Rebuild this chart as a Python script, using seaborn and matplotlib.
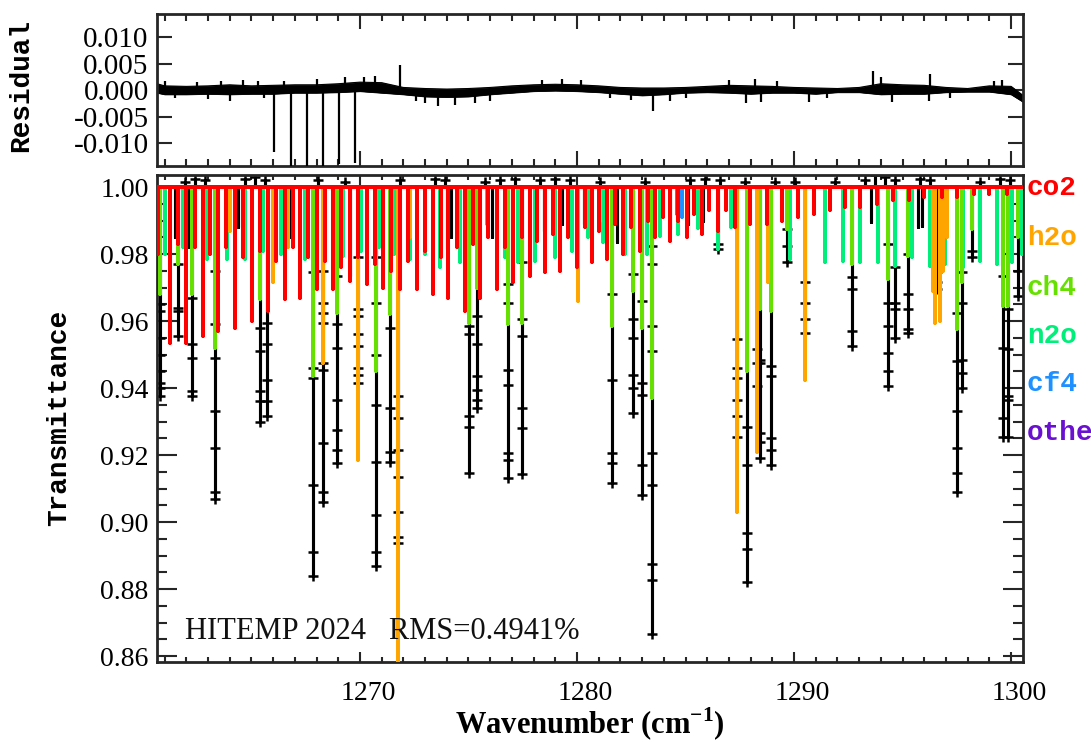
import matplotlib
matplotlib.use("Agg")
import matplotlib.pyplot as plt
import matplotlib.transforms as mtransforms
import seaborn as sns
import pandas as pd
from matplotlib.ticker import MultipleLocator, FixedLocator, FormatStrFormatter

# ---------------- data ----------------
x_range = (1260.65, 1300.55)

# observed spectrum: line centres, minimum transmittance, sampled points along each line
obs_wn = [1260.78, 1261.50, 1261.63, 1262.10, 1262.24, 1263.32, 1263.86, 1264.40, 1265.39, 1265.70,
          1266.00, 1266.80, 1267.50, 1267.82, 1268.31, 1268.95, 1269.54, 1269.92, 1270.74, 1271.38,
          1271.77, 1274.00, 1274.20, 1275.02, 1275.38, 1276.07, 1276.81, 1277.45, 1278.50, 1279.30,
          1280.30, 1281.60, 1281.83, 1282.60, 1282.98, 1283.44, 1284.29, 1285.10, 1285.80, 1286.51,
          1287.36, 1287.82, 1288.28, 1288.43, 1288.94, 1289.66, 1290.51, 1292.66, 1293.55, 1294.35,
          1294.65, 1295.26, 1295.70, 1295.90, 1296.60, 1297.50, 1297.73, 1298.18, 1298.50, 1299.65,
          1299.88, 1300.30]
obs_t = [0.9375, 0.985, 0.9555, 0.982, 0.9375, 0.907, 0.9865, 0.988, 0.930, 0.9315,
         0.979, 0.985, 0.985, 0.884, 0.906, 0.9176, 0.9735, 0.9415, 0.887, 0.918,
         0.8937, 0.9815, 0.985, 0.9146, 0.934, 0.985, 0.913, 0.9144, 0.987, 0.989,
         0.989, 0.9116, 0.9835, 0.9325, 0.908, 0.8667, 0.9875, 0.989, 0.990, 0.9814,
         0.9255, 0.882, 0.9405, 0.919, 0.917, 0.9775, 0.9565, 0.9525, 0.9895, 0.9405,
         0.955, 0.9565, 0.988, 0.9885, 0.9695, 0.909, 0.940, 0.979, 0.988, 0.9255,
         0.9255, 0.9675]
obs_marks = [
    [0.965, 0.963, 0.955, 0.950, 0.945, 0.9415, 0.940, 0.9375], [], [0.977, 0.964, 0.963, 0.9555], [],
    [0.967, 0.953, 0.949, 0.939, 0.9375], [0.975, 0.959, 0.949, 0.933, 0.922, 0.909, 0.907], [], [],
    [0.958, 0.951, 0.939, 0.936, 0.930], [0.9595, 0.953, 0.9425, 0.936, 0.9315],
    [], [], [], [0.9745, 0.946, 0.943, 0.911, 0.891, 0.884],
    [0.975, 0.9655, 0.9625, 0.9595, 0.9475, 0.9455, 0.9235, 0.909, 0.906],
    [0.9735, 0.959, 0.952, 0.9365, 0.9275, 0.9215, 0.9176], [],
    [0.979, 0.9635, 0.9615, 0.956, 0.9525, 0.946, 0.944, 0.9415],
    [0.979, 0.9655, 0.950, 0.935, 0.918, 0.902, 0.891, 0.887], [0.958, 0.934, 0.921, 0.918],
    [0.9375, 0.931, 0.9215, 0.9135, 0.903, 0.8956, 0.8937], [], [],
    [0.9585, 0.956, 0.9315, 0.9285, 0.9146], [0.9615, 0.953, 0.9435, 0.9395, 0.9365, 0.934], [],
    [0.971, 0.9655, 0.9455, 0.941, 0.9205, 0.9185, 0.913], [0.9775, 0.9605, 0.9555, 0.934, 0.928, 0.9144],
    [], [], [], [0.968, 0.9425, 0.9205, 0.9175, 0.9116], [],
    [0.974, 0.9605, 0.955, 0.944, 0.940, 0.9325], [0.966, 0.9415, 0.938, 0.917, 0.908],
    [0.9825, 0.977, 0.9585, 0.951, 0.9205, 0.911, 0.8876, 0.8826, 0.8667], [], [], [], [0.983, 0.9814],
    [0.9545, 0.946, 0.943, 0.9365, 0.9315, 0.9255], [0.9285, 0.917, 0.8966, 0.892, 0.882],
    [0.9515, 0.9475, 0.9405], [0.9485, 0.9475, 0.9265, 0.924, 0.919], [0.9465, 0.9435, 0.925, 0.9215, 0.917],
    [0.9875, 0.9825, 0.9775], [0.9715, 0.9655, 0.9605, 0.9565], [0.973, 0.9695, 0.957, 0.9525], [],
    [0.983, 0.9655, 0.9585, 0.9505, 0.945, 0.9405], [0.976, 0.9655, 0.9635, 0.955],
    [0.98, 0.968, 0.9635, 0.9575, 0.9565], [], [], [0.9745, 0.9715, 0.9695],
    [0.9625, 0.948, 0.933, 0.922, 0.9145, 0.909], [0.9745, 0.9655, 0.9485, 0.9445, 0.940], [0.981, 0.979], [],
    [0.9735, 0.952, 0.931, 0.9255], [0.9635, 0.9515, 0.9375, 0.9365, 0.9255], [0.975, 0.9675]]

# observed points scattered just above the continuum
top_wn = [1261.94, 1262.40, 1262.86, 1264.70, 1265.16, 1265.62, 1268.06, 1269.30, 1271.84, 1273.46,
          1273.92, 1275.76, 1276.45, 1277.14, 1278.30, 1278.99, 1279.68, 1281.06, 1283.13, 1285.20,
          1285.90, 1286.59, 1287.74, 1289.12, 1290.05, 1291.90, 1293.27, 1293.73, 1294.19, 1294.65,
          1295.80, 1296.27, 1298.57, 1299.49, 1299.95]
top_t = [1.0015, 1.0025, 1.002, 1.0025, 1.003, 1.002, 1.002, 1.0015, 1.002, 1.0025,
         1.002, 1.0015, 1.002, 1.0025, 1.002, 1.0025, 1.002, 1.0015, 1.0015, 1.002,
         1.0025, 1.002, 1.0015, 1.0015, 1.0015, 1.0015, 1.002, 1.0035, 1.003, 1.002,
         1.0025, 1.002, 1.0015, 1.0025, 1.002]

# species model lines
co2_wn = [1260.70, 1261.24, 1261.98, 1262.78, 1263.46, 1264.24, 1265.01, 1265.76, 1266.54, 1267.24,
          1268.00, 1268.76, 1269.54, 1270.31, 1271.06, 1271.84, 1272.61, 1273.35, 1274.07, 1274.84,
          1275.53, 1276.30, 1277.07, 1277.83, 1278.53, 1279.22, 1279.99, 1280.68, 1281.37, 1282.12,
          1282.90, 1283.60, 1284.29, 1285.05, 1285.75, 1286.50, 1287.30, 1287.95, 1288.74, 1289.43,
          1290.20, 1290.90, 1291.66, 1292.35, 1293.04, 1293.80, 1294.55, 1295.30, 1296.00, 1296.80,
          1297.50, 1298.30, 1299.00, 1299.80]
co2_t = [0.980, 0.9535, 0.9535, 0.9555, 0.957, 0.958, 0.960, 0.963, 0.9665, 0.967,
         0.9695, 0.9695, 0.972, 0.971, 0.970, 0.9695, 0.9695, 0.968, 0.967, 0.963,
         0.967, 0.9695, 0.9715, 0.9735, 0.9745, 0.975, 0.976, 0.9775, 0.9785, 0.980,
         0.981, 0.985, 0.984, 0.985, 0.986, 0.987, 0.988, 0.989, 0.989, 0.990,
         0.991, 0.992, 0.993, 0.994, 0.994, 0.995, 0.996, 0.996, 0.997, 0.997,
         0.997, 0.998, 0.998, 0.998]
co2_weak_wn = [1261.60, 1262.40, 1263.10, 1263.85, 1264.62, 1265.40, 1266.15, 1266.90, 1267.62, 1268.38,
               1269.15, 1269.92, 1270.70, 1271.45, 1272.22, 1272.98, 1273.72, 1274.45, 1275.20, 1275.90,
               1276.68, 1277.45, 1278.18, 1278.88, 1279.60, 1280.35, 1281.02, 1281.75, 1282.50, 1283.25,
               1283.95, 1284.65, 1285.40, 1286.10, 1286.85]
co2_weak_t = [0.983, 0.982, 0.980, 0.982, 0.979, 0.981, 0.978, 0.982, 0.979, 0.978,
              0.976, 0.979, 0.977, 0.975, 0.978, 0.981, 0.979, 0.982, 0.983, 0.985,
              0.982, 0.985, 0.984, 0.986, 0.985, 0.988, 0.987, 0.989, 0.988, 0.990,
              0.991, 0.990, 0.992, 0.993, 0.993]
h2o_wn = [1264.00, 1266.00, 1266.70, 1268.31, 1269.92, 1271.77, 1272.30, 1280.06, 1281.06, 1287.36,
          1288.28, 1288.80, 1290.51, 1296.40, 1296.50, 1296.73, 1296.85, 1297.05]
h2o_t = [0.987, 0.9715, 0.982, 0.9475, 0.9186, 0.850, 0.985, 0.966, 0.990, 0.903,
         0.921, 0.9715, 0.9425, 0.969, 0.9595, 0.960, 0.975, 0.985]
ch4_wn = [1260.78, 1261.63, 1262.24, 1263.32, 1265.39, 1267.82, 1268.95, 1270.74, 1271.38, 1275.02,
          1275.38, 1276.81, 1277.45, 1281.60, 1282.60, 1282.98, 1283.44, 1287.82, 1288.43, 1288.94,
          1289.66, 1292.66, 1294.35, 1295.26, 1297.50, 1297.73, 1298.18, 1299.65, 1299.88, 1300.30]
ch4_t = [0.968, 0.977, 0.968, 0.952, 0.9665, 0.9435, 0.9625, 0.945, 0.962, 0.9595,
         0.970, 0.959, 0.9595, 0.9585, 0.969, 0.958, 0.937, 0.945, 0.9635, 0.963,
         0.9875, 0.977, 0.9725, 0.9795, 0.9575, 0.9715, 0.9875, 0.9645, 0.9645, 0.985]
n2o_wn = [1261.01, 1261.85, 1262.94, 1263.86, 1264.70, 1265.55, 1266.35, 1267.47, 1268.40, 1269.23,
          1270.05, 1270.90, 1271.55, 1272.30, 1273.00, 1273.69, 1274.60, 1275.84, 1276.68, 1277.30,
          1278.06, 1278.99, 1279.76, 1280.50, 1281.21, 1282.21, 1282.60, 1283.21, 1283.82, 1284.67,
          1285.59, 1286.51, 1287.10, 1289.82, 1291.43, 1292.27, 1293.04, 1293.88, 1294.65, 1295.45,
          1296.27, 1296.96, 1297.80, 1298.57, 1299.34, 1300.03, 1300.49]
n2o_t = [0.980, 0.982, 0.9785, 0.9785, 0.9785, 0.981, 0.980, 0.9785, 0.981, 0.9795,
         0.981, 0.982, 0.980, 0.9785, 0.980, 0.976, 0.9775, 0.989, 0.979, 0.9775,
         0.978, 0.979, 0.981, 0.985, 0.9835, 0.980, 0.980, 0.980, 0.9855, 0.986,
         0.9877, 0.9815, 0.988, 0.9785, 0.9775, 0.978, 0.9775, 0.9775, 0.9765, 0.979,
         0.9765, 0.977, 0.976, 0.978, 0.977, 0.9775, 0.980]
cf4_wn = [1284.60, 1284.85]
cf4_t = [0.992, 0.991]

species = ["co2", "h2o", "ch4", "n2o", "cf4", "other"]
species_labels = ["co2", "h2o", "ch4", "n2o", "cf4  \u00d710", "other"]
species_colors = ["#ff0000", "#ffa500", "#66e000", "#00ee7a", "#1e90ff", "#6a10d0"]

# residual: envelope of the noise band, and narrow spikes
res_wn = [1260.65, 1261, 1262, 1263, 1264, 1265, 1266, 1267, 1268, 1269, 1270, 1271, 1272, 1273,
          1274, 1275, 1276, 1277, 1278, 1279, 1280, 1281, 1282, 1283, 1284, 1285, 1286, 1287,
          1288, 1289, 1290, 1291, 1292, 1293, 1294, 1295, 1296, 1297, 1298, 1299, 1300, 1300.55]
res_hi = [0.0012, 0.0008, 0.0007, 0.0008, 0.0010, 0.0008, 0.0009, 0.0010, 0.0010, 0.0012, 0.0015,
          0.0014, 0.0005, 0.0003, 0.0002, 0.0003, 0.0005, 0.0008, 0.0010, 0.0011, 0.0010, 0.0008,
          0.0005, 0.0004, 0.0004, 0.0005, 0.0007, 0.0009, 0.0008, 0.0007, 0.0005, 0.0004, 0.0003,
          0.0005, 0.0012, 0.0010, 0.0009, 0.0005, 0.0003, 0.0008, 0.0007, -0.0010]
res_lo = [-0.0005, -0.0008, -0.0008, -0.0007, -0.0008, -0.0007, -0.0007, -0.0005, -0.0005, -0.0004,
          -0.0002, -0.0005, -0.0008, -0.0012, -0.0013, -0.0012, -0.0008, -0.0005, -0.0002, -0.0001,
          -0.0002, -0.0004, -0.0007, -0.0010, -0.0008, -0.0005, -0.0004, -0.0005, -0.0007, -0.0005,
          -0.0005, -0.0007, -0.0004, -0.0004, -0.0008, -0.0007, -0.0007, -0.0004, -0.0003, -0.0003,
          -0.0008, -0.0022]
spike_wn = [1266.06, 1266.83, 1267.57, 1268.31, 1269.05, 1269.76, 1271.84, 1264.03, 1273.0, 1283.5,
            1287.8, 1288.5, 1290.7, 1294.5, 1296.2, 1293.64, 1296.25, 1270.7, 1278.4,
            1261.0, 1262.5, 1263.6, 1264.6, 1265.3, 1266.5, 1268.0, 1269.3, 1270.2, 1279.3,
            1280.2, 1287.0, 1288.2, 1289.2, 1294.0, 1299.2, 1299.6,
            1261.5, 1263.0, 1265.6, 1272.6, 1273.6, 1274.4, 1275.3, 1276.0, 1281.5, 1282.5,
            1284.3, 1285.0, 1291.5, 1297.2]
spike_val = [-0.0116, -0.0142, -0.0142, -0.0142, -0.0138, -0.0137, 0.0047, -0.0020, -0.0025, -0.0040,
             -0.0025, -0.0023, -0.0022, -0.0022, -0.0020, 0.0036, 0.0030, 0.0026, 0.0019,
             0.0018, 0.0016, 0.0017, 0.0019, 0.0017, 0.0018, 0.0020, 0.0024, 0.0025, 0.0020,
             0.0019, 0.0019, 0.0020, 0.0018, 0.0025, 0.0018, 0.0019,
             -0.0015, -0.0017, -0.0014, -0.0020, -0.0030, -0.0028, -0.0025, -0.0020, -0.0015, -0.0018,
             -0.0020, -0.0015, -0.0015, -0.0015]

label_text = "HITEMP 2024   RMS=0.4941%"

# ---------------- styling ----------------
sns.set_theme(style="ticks")
plt.rcParams["font.family"] = ["Liberation Serif", "DejaVu Serif"]
plt.rcParams["mathtext.fontset"] = "custom"
plt.rcParams["mathtext.rm"] = "Liberation Serif"
plt.rcParams["mathtext.bf"] = "Liberation Serif:bold"
plt.rcParams["lines.solid_joinstyle"] = "round"

FRAME = "#262626"
MONO = ["Liberation Mono", "DejaVu Sans Mono"]

fig = plt.figure(figsize=(10.91, 7.42), dpi=100)
ax_r = fig.add_axes([0.1439, 0.7767, 0.7938, 0.2044])
ax = fig.add_axes([0.1439, 0.1082, 0.7938, 0.6560])


def comb_frame(wn, t):
    rows = [{"wn": x_range[0], "t": 1.0}]
    for c, d in sorted(zip(wn, t)):
        rows += [{"wn": c, "t": 1.0}, {"wn": c, "t": d}, {"wn": c, "t": 1.0}]
    rows.append({"wn": x_range[1], "t": 1.0})
    return pd.DataFrame(rows)


# observed spectrum (black), first so the model lines overlay it
obs_all_wn = list(obs_wn) + list(top_wn)
obs_all_t = list(obs_t) + list(top_t)
sns.lineplot(data=comb_frame(obs_all_wn, obs_all_t), x="wn", y="t", sort=False, estimator=None,
             errorbar=None, color="black", lw=2.2, ax=ax, zorder=2)
mk = pd.DataFrame([{"wn": w, "t": v} for w, ms in zip(obs_wn, obs_marks) for v in ms]
                  + [{"wn": w, "t": v} for w, v in zip(top_wn, top_t)])
sns.scatterplot(data=mk, x="wn", y="t", marker="+", s=45, color="black", linewidth=1.8,
                ax=ax, zorder=2.5)

# species model lines
model = [("n2o", n2o_wn, n2o_t), ("ch4", ch4_wn, ch4_t), ("h2o", h2o_wn, h2o_t),
         ("cf4", cf4_wn, cf4_t), ("co2", co2_weak_wn, co2_weak_t), ("co2", co2_wn, co2_t)]
col = dict(zip(species, species_colors))
for i, (sp, wn, t) in enumerate(model):
    sns.lineplot(data=comb_frame(wn, t), x="wn", y="t", sort=False, estimator=None,
                 errorbar=None, color=col[sp], lw=2.7, ax=ax, zorder=3 + i * 0.1)

ax.set_xlim(*x_range)
ax.set_ylim(0.8583, 1.0036)
ax.xaxis.set_major_locator(MultipleLocator(10))
ax.xaxis.set_minor_locator(MultipleLocator(1))
ax.yaxis.set_major_locator(MultipleLocator(0.02))
ax.yaxis.set_minor_locator(MultipleLocator(0.005))
ax.yaxis.set_major_formatter(FormatStrFormatter("%.2f"))
ax.xaxis.set_major_formatter(FormatStrFormatter("%d"))
ax.tick_params(which="both", direction="in", top=True, right=True, color=FRAME, width=1.5,
               labelsize=20, labelcolor="black")
ax.xaxis.set_tick_params(which="major", length=7, pad=14)
ax.xaxis.set_tick_params(which="minor", length=3.8)
ax.yaxis.set_tick_params(which="major", length=14.5, pad=6)
ax.yaxis.set_tick_params(which="minor", length=7.2)

ax.text(1261.94, 0.8673, label_text, fontsize=22, va="center", ha="left", color="#111111",
        family=["Liberation Serif", "DejaVu Serif"], zorder=6)

ax.set_ylabel("Transmittance", fontsize=20, fontweight="bold", family=MONO, color="black")
ax.yaxis.set_label_coords(-0.098, 0.50)
ax.set_xlabel(r"Wavenumber (cm$^{\mathbf{-1}}$)", fontsize=22, fontweight="bold", color="black",
              va="center")
ax.xaxis.set_label_coords(0.5, -0.128)

# residual panel
ax_r.fill_between(res_wn, res_lo, res_hi, color="black", lw=0.6, zorder=2)
sns.lineplot(x=res_wn, y=res_hi, color="black", lw=0.8, ax=ax_r, errorbar=None)
sns.lineplot(x=res_wn, y=res_lo, color="black", lw=0.8, ax=ax_r, errorbar=None)
ax_r.vlines(spike_wn, 0.0, spike_val, color="black", lw=1.6, zorder=3)
ax_r.set_xlim(*x_range)
ax_r.set_ylim(-0.0142, 0.0143)
ax_r.xaxis.set_major_locator(MultipleLocator(10))
ax_r.xaxis.set_minor_locator(MultipleLocator(1))
ax_r.yaxis.set_major_locator(FixedLocator([-0.010, -0.005, 0.0, 0.005, 0.010]))
ax_r.yaxis.set_major_formatter(FormatStrFormatter("%.3f"))
ax_r.tick_params(which="both", direction="in", top=True, right=True, color=FRAME, width=1.5,
                 labelsize=21, labelcolor="black", labelbottom=False)
ax_r.xaxis.set_tick_params(which="major", length=11)
ax_r.xaxis.set_tick_params(which="minor", length=5)
ax_r.yaxis.set_tick_params(which="major", length=11, pad=6)
ax_r.set_ylabel("Residual", fontsize=20, fontweight="bold", family=MONO, color="black")
ax_r.yaxis.set_label_coords(-0.142, 0.53)
ax_r.set_xlabel("")

for a in (ax, ax_r):
    for s in a.spines.values():
        s.set_visible(True)
        s.set_linewidth(2.0)
        s.set_color(FRAME)

# x tick labels sit a little to the right of their ticks in the reference
shift = mtransforms.ScaledTranslation(0.08, 0, fig.dpi_scale_trans)
for lbl in ax.get_xticklabels():
    lbl.set_transform(lbl.get_transform() + shift)

# species labels at the right edge
label_y = [188, 238, 288, 336, 384, 433]
for lab, c, yy in zip(species_labels, species_colors, label_y):
    fig.text(1027 / 1091, 1 - yy / 742, lab, color=c, fontsize=20, fontweight="bold",
             family=MONO, ha="left", va="center")

fig.savefig("out.png", dpi=100)
